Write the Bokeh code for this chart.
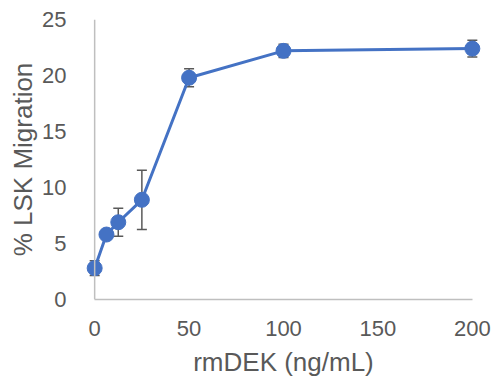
from bokeh.plotting import figure
from bokeh.models import ColumnDataSource, Whisker, TeeHead, Span, Range1d, FixedTicker
from bokeh.embed import file_html
from bokeh.resources import INLINE

# Data
dose = [0, 6.25, 12.5, 25, 50, 100, 200]
migration = [2.8, 5.8, 6.9, 8.9, 19.8, 22.2, 22.4]
err = [0.65, 0.3, 1.25, 2.65, 0.8, 0.6, 0.75]
x_ticks = [0, 50, 100, 150, 200]
y_ticks = [0, 5, 10, 15, 20, 25]

upper = [m + e for m, e in zip(migration, err)]
lower = [m - e for m, e in zip(migration, err)]
src = ColumnDataSource(dict(x=dose, y=migration, upper=upper, lower=lower))

FONT = "Liberation Sans"
GREY = "#595959"
AXIS = "#bfbfbf"

p = figure(width=499, height=383, output_backend="svg", toolbar_location=None,
           x_range=Range1d(-7.5, 207.5), y_range=Range1d(0, 25),
           min_border_left=80, min_border_right=13, min_border_top=19, min_border_bottom=84)
p.outline_line_color = None
p.grid.grid_line_color = None
p.background_fill_color = "white"
p.border_fill_color = "white"

# x axis
p.xaxis.bounds = (0, 200)
p.xaxis.ticker = FixedTicker(ticks=x_ticks)
p.xaxis.axis_line_color = AXIS
p.xaxis.axis_line_width = 1.5
p.xaxis.major_tick_line_color = None
p.xaxis.minor_tick_line_color = None
p.xaxis.major_label_standoff = 15
p.xaxis.axis_label = "rmDEK (ng/mL)"
p.xaxis.axis_label_standoff = 8

# y axis
p.yaxis.ticker = FixedTicker(ticks=y_ticks)
p.yaxis.axis_line_color = None
p.yaxis.major_tick_line_color = None
p.yaxis.minor_tick_line_color = None
p.yaxis.major_label_standoff = 8
p.yaxis.axis_label = "% LSK Migration"
p.yaxis.axis_label_standoff = 1

for ax in (p.xaxis, p.yaxis):
    ax.major_label_text_font = FONT
    ax.major_label_text_font_size = "22px"
    ax.major_label_text_color = GREY
    ax.axis_label_text_font = FONT
    ax.axis_label_text_font_size = "26px"
    ax.axis_label_text_color = GREY
    ax.axis_label_text_font_style = "normal"

p.add_layout(Span(location=0, dimension="height", line_color=AXIS, line_width=1.5))

p.add_layout(Whisker(source=src, base="x", upper="upper", lower="lower",
                     line_color=GREY, line_width=1.5,
                     upper_head=TeeHead(size=10, line_color=GREY, line_width=1.5),
                     lower_head=TeeHead(size=10, line_color=GREY, line_width=1.5)))

p.line("x", "y", source=src, line_color="#4472C4", line_width=3)
p.scatter("x", "y", source=src, size=15, fill_color="#4472C4", line_color="#4472C4")

open("out.html", "w").write(file_html(p, INLINE))
